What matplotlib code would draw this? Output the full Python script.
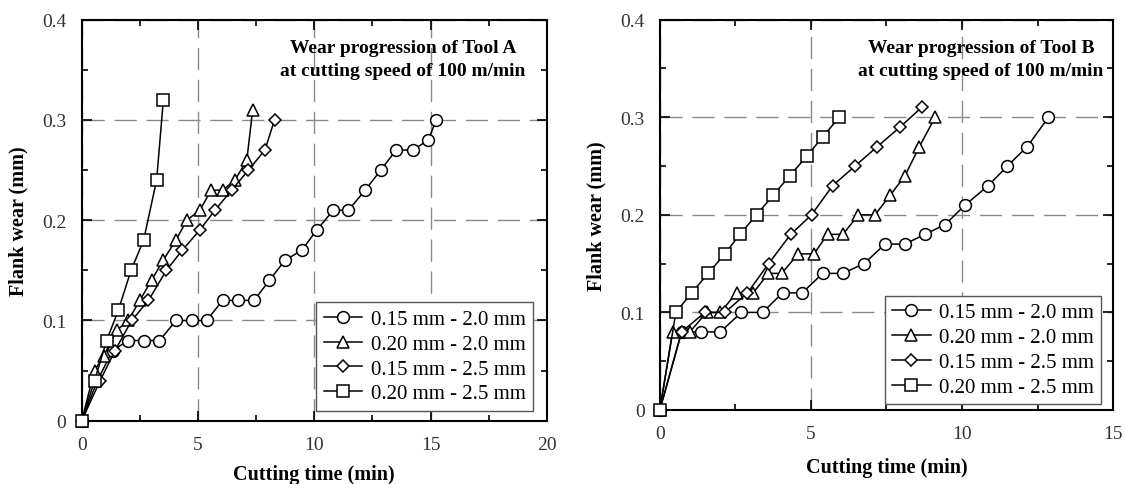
import matplotlib
matplotlib.use("Agg")
import matplotlib.pyplot as plt
from matplotlib.ticker import MultipleLocator, FuncFormatter

plt.rcParams['font.family'] = ['Liberation Serif', 'DejaVu Serif']

labels = ["0.15 mm - 2.0 mm", "0.20 mm - 2.0 mm", "0.15 mm - 2.5 mm", "0.20 mm - 2.5 mm"]

# Tool A
a_circ_x = [0, 0.67, 1.33, 2.0, 2.68, 3.34, 4.06, 4.73, 5.37, 6.06, 6.74, 7.41, 8.07, 8.74, 9.46,
            10.1, 10.82, 11.47, 12.19, 12.86, 13.52, 14.24, 14.91, 15.24]
a_circ_y = [0, 0.04, 0.07, 0.08, 0.08, 0.08, 0.10, 0.10, 0.10, 0.12, 0.12, 0.12, 0.14, 0.16, 0.17,
            0.19, 0.21, 0.21, 0.23, 0.25, 0.27, 0.27, 0.28, 0.30]
a_tri_x = [0, 0.55, 0.95, 1.5, 2.0, 2.5, 3.0, 3.5, 4.05, 4.52, 5.08, 5.57, 6.06, 6.59, 7.1, 7.35]
a_tri_y = [0, 0.05, 0.065, 0.09, 0.10, 0.12, 0.14, 0.16, 0.18, 0.20, 0.21, 0.23, 0.23, 0.24, 0.26, 0.31]
a_dia_x = [0, 0.79, 1.43, 2.15, 2.87, 3.64, 4.32, 5.07, 5.73, 6.45, 7.17, 7.88, 8.29]
a_dia_y = [0, 0.04, 0.07, 0.10, 0.12, 0.15, 0.17, 0.19, 0.21, 0.23, 0.25, 0.27, 0.30]
a_sq_x = [0, 0.55, 1.07, 1.57, 2.12, 2.66, 3.22, 3.51]
a_sq_y = [0, 0.04, 0.08, 0.11, 0.15, 0.18, 0.24, 0.32]

# Tool B
b_circ_x = [0, 0.72, 1.35, 2.0, 2.7, 3.4, 4.06, 4.71, 5.39, 6.05, 6.76, 7.45, 8.11, 8.77, 9.44,
            10.1, 10.87, 11.5, 12.16, 12.86]
b_circ_y = [0, 0.08, 0.08, 0.08, 0.10, 0.10, 0.12, 0.12, 0.14, 0.14, 0.15, 0.17, 0.17, 0.18, 0.19,
            0.21, 0.23, 0.25, 0.27, 0.30]
b_tri_x = [0, 0.42, 0.99, 1.55, 2.0, 2.54, 3.09, 3.59, 4.03, 4.58, 5.1, 5.55, 6.06, 6.57, 7.12,
           7.62, 8.11, 8.59, 9.11]
b_tri_y = [0, 0.08, 0.08, 0.10, 0.10, 0.12, 0.12, 0.14, 0.14, 0.16, 0.16, 0.18, 0.18, 0.20, 0.20,
           0.22, 0.24, 0.27, 0.30]
b_dia_x = [0, 0.72, 1.49, 2.15, 2.9, 3.6, 4.33, 5.02, 5.72, 6.46, 7.2, 7.95, 8.66]
b_dia_y = [0, 0.08, 0.10, 0.10, 0.12, 0.15, 0.18, 0.20, 0.23, 0.25, 0.27, 0.29, 0.31]
b_sq_x = [0, 0.53, 1.05, 1.6, 2.15, 2.65, 3.2, 3.75, 4.3, 4.86, 5.39, 5.94]
b_sq_y = [0, 0.10, 0.12, 0.14, 0.16, 0.18, 0.20, 0.22, 0.24, 0.26, 0.28, 0.30]

fig = plt.figure(figsize=(11.26, 4.85), dpi=100)
ax1 = fig.add_axes([0.0726, 0.1305, 0.413, 0.8268])
ax2 = fig.add_axes([0.586, 0.1526, 0.4026, 0.8048])

mstyle = dict(color='black', lw=1.1, mfc='white', mec='black', mew=1.1, clip_on=False)


def yfmt(v, pos):
    return "0" if abs(v) < 1e-9 else f"{v:.1f}"


def draw(ax, series, xmax, title, tx, ty, xl, yl, lx, ly):
    for (x, y), m, ms, lab in zip(series, ['o', '^', 'D', 's'], [8.5, 9, 6.5, 8.5], labels):
        ax.plot(x, y, marker=m, ms=ms, label=lab, zorder=3, **mstyle)
    ax.set_xlim(0, xmax)
    ax.set_ylim(0, 0.4)
    ax.xaxis.set_major_locator(MultipleLocator(5))
    ax.xaxis.set_minor_locator(MultipleLocator(2.5))
    ax.yaxis.set_major_locator(MultipleLocator(0.1))
    ax.yaxis.set_minor_locator(MultipleLocator(0.05))
    ax.yaxis.set_major_formatter(FuncFormatter(yfmt))
    ax.tick_params(which='both', direction='in', top=True, right=True, labelsize=14,
                   width=1.2, pad=11, labelcolor='#333333')
    ax.tick_params(which='major', length=7)
    ax.tick_params(which='minor', length=4)
    for s in ax.spines.values():
        s.set_linewidth(1.5)
    ax.grid(which='major', color='#8a8a8a', lw=1.0, linestyle=(0, (16, 7)))
    ax.set_xlabel("Cutting time (min)", fontsize=14.5, fontweight='bold')
    ax.set_ylabel("Flank wear (mm)", fontsize=14.5, fontweight='bold')
    ax.xaxis.set_label_coords(0.5, xl)
    ax.yaxis.set_label_coords(yl, 0.5)
    ax.text(tx, ty, title, transform=ax.transAxes, ha='center', va='top',
            fontsize=14, fontweight='bold', linespacing=1.45)
    leg = ax.legend(loc='lower right', bbox_to_anchor=(lx, ly), fontsize=15,
                    fancybox=False, framealpha=1, edgecolor='#555555', handlelength=1.85,
                    handletextpad=0.4, labelspacing=0.25, borderpad=0.35, borderaxespad=0)
    leg.get_frame().set_linewidth(1.0)


draw(ax1, [(a_circ_x, a_circ_y), (a_tri_x, a_tri_y), (a_dia_x, a_dia_y), (a_sq_x, a_sq_y)], 20,
     "Wear progression of Tool A\nat cutting speed of 100 m/min", 0.691, 0.952,
     -0.108, -0.115, 0.97, 0.025)
draw(ax2, [(b_circ_x, b_circ_y), (b_tri_x, b_tri_y), (b_dia_x, b_dia_y), (b_sq_x, b_sq_y)], 15,
     "Wear progression of Tool B\nat cutting speed of 100 m/min", 0.708, 0.95,
     -0.12, -0.117, 0.974, 0.015)

fig.savefig("out.png", dpi=100)
